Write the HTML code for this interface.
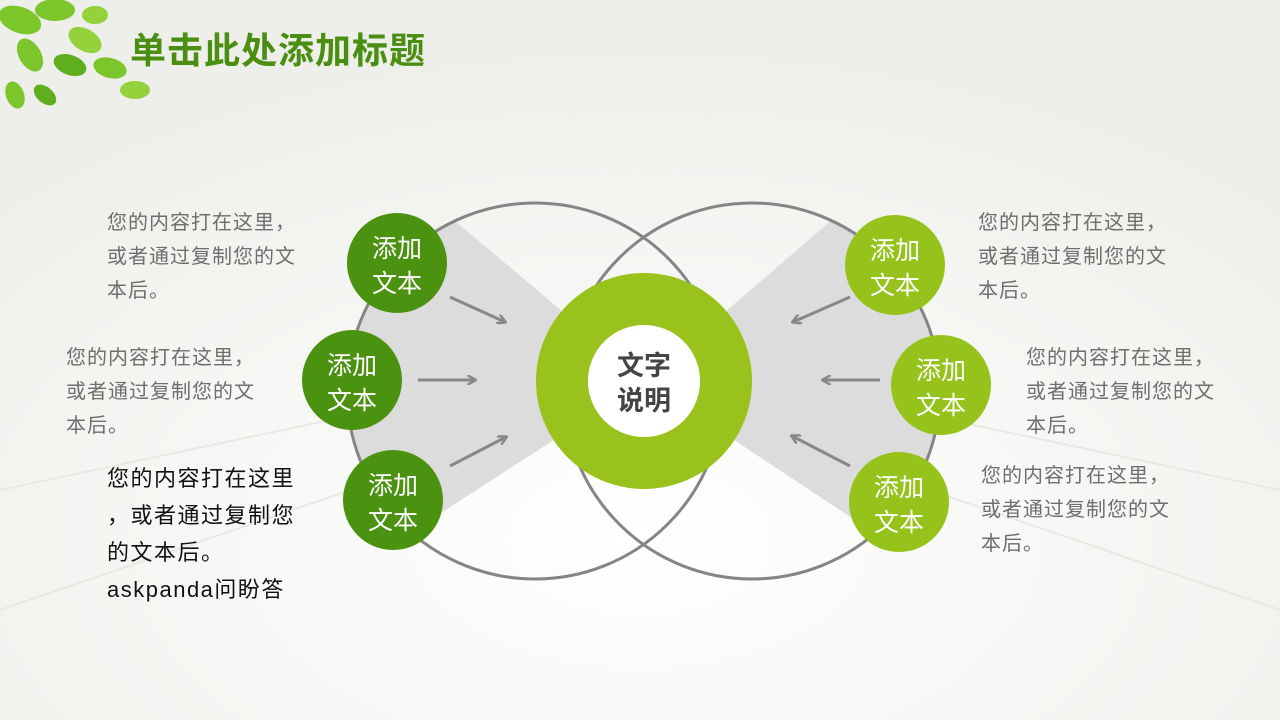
<!DOCTYPE html>
<html><head><meta charset="utf-8"><style>
body{margin:0;width:1280px;height:720px;overflow:hidden;background:#f3f3ef;font-family:"Liberation Sans","Noto Sans CJK SC",sans-serif;}
.t{position:absolute;color:#6e6e6e;font-size:20px;letter-spacing:1px;line-height:34px;white-space:nowrap;}
</style></head><body>
<svg width="1280" height="720" style="position:absolute;left:0;top:0">
<defs>
<radialGradient id="bg" cx="0.5" cy="0.75" r="0.7"><stop offset="0" stop-color="#ffffff"/><stop offset="1" stop-color="#eeeeea"/></radialGradient>
<clipPath id="cl"><circle cx="535" cy="391" r="188"/></clipPath>
<clipPath id="cr"><circle cx="752" cy="391" r="188"/></clipPath>
<marker id="ah" markerWidth="10" markerHeight="10" refX="8" refY="5" orient="auto" markerUnits="userSpaceOnUse"><path d="M0,0 L9,5 L0,10" fill="none" stroke="#888" stroke-width="2.5"/></marker>
</defs>
<rect width="1280" height="720" fill="url(#bg)"/>
<g stroke="#e8e8e4" stroke-width="2" fill="none">
<line x1="0" y1="490" x2="330" y2="420"/><line x1="0" y1="610" x2="380" y2="480"/><line x1="1280" y1="490" x2="950" y2="420"/><line x1="1280" y1="610" x2="900" y2="480"/>
</g>
<g fill="#7cc52a">
<ellipse cx="20" cy="20" rx="22" ry="13" transform="rotate(20 20 20)"/>
<ellipse cx="55" cy="10" rx="20" ry="11"/>
<ellipse cx="85" cy="40" rx="18" ry="11" transform="rotate(30 85 40)" fill="#94d13a"/>
<ellipse cx="30" cy="55" rx="18" ry="11" transform="rotate(60 30 55)"/>
<ellipse cx="70" cy="65" rx="17" ry="10" transform="rotate(20 70 65)" fill="#5fae1e"/>
<ellipse cx="110" cy="68" rx="17" ry="10" transform="rotate(15 110 68)"/>
<ellipse cx="135" cy="90" rx="15" ry="9" fill="#94d13a"/>
<ellipse cx="15" cy="95" rx="14" ry="9" transform="rotate(70 15 95)"/>
<ellipse cx="45" cy="95" rx="13" ry="8" transform="rotate(40 45 95)" fill="#5fae1e"/>
<ellipse cx="95" cy="15" rx="13" ry="9" fill="#94d13a"/>
</g>
<path d="M300,200 L430,200 L645,381 L430,520 L300,520Z" fill="#dcdcdc" clip-path="url(#cl)"/>
<path d="M990,200 L855,200 L645,381 L855,520 L990,520Z" fill="#dcdcdc" clip-path="url(#cr)"/>
<circle cx="535" cy="391" r="188" fill="none" stroke="#858585" stroke-width="3"/>
<circle cx="752" cy="391" r="188" fill="none" stroke="#858585" stroke-width="3"/>
<circle cx="644" cy="381" r="82" fill="none" stroke="#99c31c" stroke-width="52"/>
<circle cx="644" cy="381" r="56" fill="#fff"/>
<g stroke="#888" stroke-width="3" marker-end="url(#ah)">
<line x1="450" y1="297" x2="505" y2="322"/><line x1="418" y1="380" x2="475" y2="380"/><line x1="450" y1="466" x2="506" y2="437"/>
<line x1="850" y1="297" x2="793" y2="322"/><line x1="880" y1="380" x2="823" y2="380"/><line x1="850" y1="466" x2="792" y2="436"/>
</g>
<g fill="#4c9211"><circle cx="397" cy="263" r="50"/><circle cx="352" cy="380" r="50"/><circle cx="393" cy="500" r="50"/></g>
<g fill="#96c31b"><circle cx="895" cy="265" r="50"/><circle cx="941" cy="385" r="50"/><circle cx="899" cy="502" r="50"/></g>
<g fill="#fff" font-size="25" text-anchor="middle" font-family="Liberation Sans,Noto Sans CJK SC,sans-serif">
<text x="397" y="257">添加</text><text x="397" y="292">文本</text>
<text x="352" y="374">添加</text><text x="352" y="409">文本</text>
<text x="393" y="494">添加</text><text x="393" y="529">文本</text>
<text x="895" y="259">添加</text><text x="895" y="294">文本</text>
<text x="941" y="379">添加</text><text x="941" y="414">文本</text>
<text x="899" y="496">添加</text><text x="899" y="531">文本</text>
</g>
<g fill="#444" font-size="27" font-weight="bold" text-anchor="middle" font-family="Liberation Sans,Noto Sans CJK SC,sans-serif">
<text x="644" y="375">文字</text><text x="644" y="410">说明</text>
</g>
<text x="130" y="63" fill="#4a8e12" font-size="36" font-weight="bold" letter-spacing="1" font-family="Liberation Sans,Noto Sans CJK SC,sans-serif">单击此处添加标题</text>
</svg>
<div class="t" style="left:107px;top:206px">您的内容打在这里，<br>或者通过复制您的文<br>本后。</div>
<div class="t" style="left:66px;top:341px">您的内容打在这里，<br>或者通过复制您的文<br>本后。</div>
<div class="t" style="left:978px;top:206px">您的内容打在这里，<br>或者通过复制您的文<br>本后。</div>
<div class="t" style="left:1026px;top:341px">您的内容打在这里，<br>或者通过复制您的文<br>本后。</div>
<div class="t" style="left:981px;top:459px">您的内容打在这里，<br>或者通过复制您的文<br>本后。</div>
<div class="t" style="left:107px;top:460px;color:#111;font-size:22px;letter-spacing:1.5px;line-height:37px">您的内容打在这里<br>，或者通过复制您<br>的文本后。<br>askpanda问盼答</div>
</body></html>
